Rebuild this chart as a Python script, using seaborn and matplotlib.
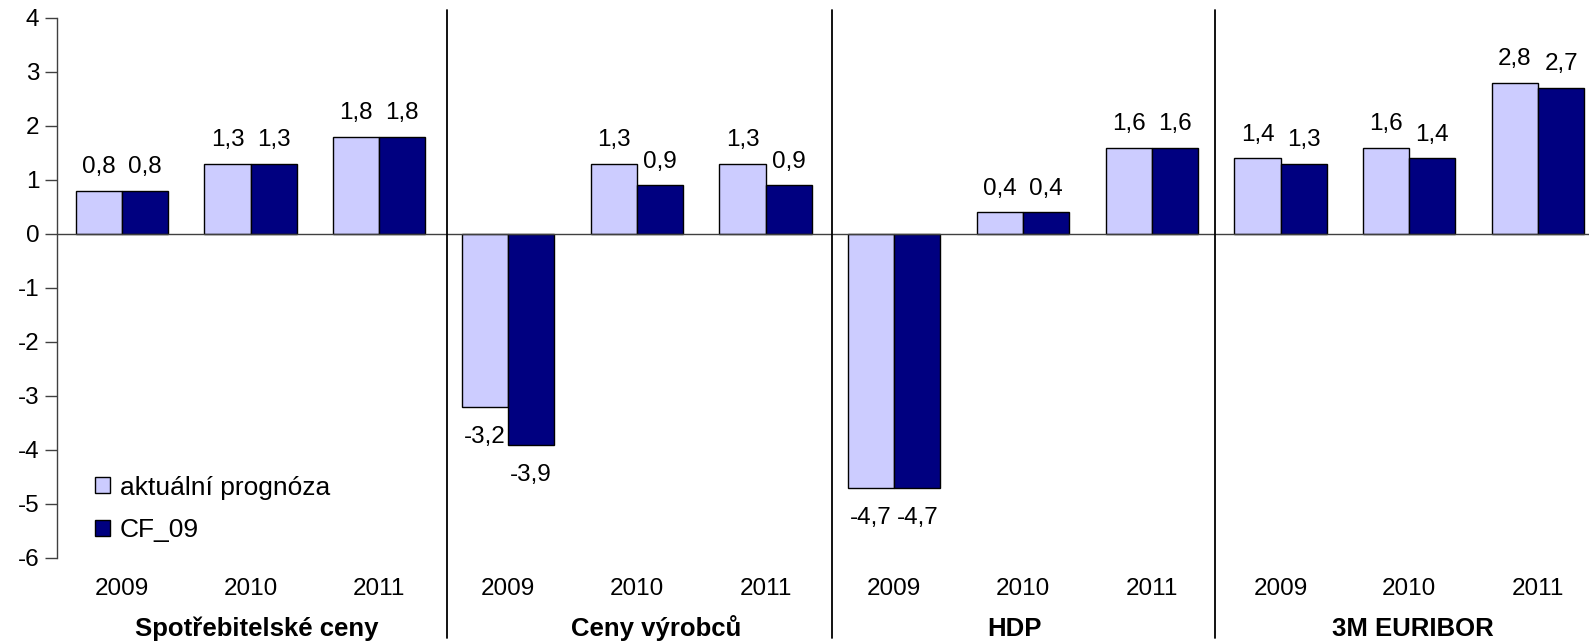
import numpy as np
import pandas as pd
import matplotlib
matplotlib.use("Agg")
import matplotlib.pyplot as plt
import matplotlib.transforms as mtransforms
from matplotlib.patches import Patch
import seaborn as sns

# ---- data ----
groups = ["Spotřebitelské ceny", "Ceny výrobců", "HDP", "3M EURIBOR"]
years = ["2009", "2010", "2011"]
series_names = ["aktuální prognóza", "CF_09"]
aktualni = [0.8, 1.3, 1.8, -3.2, 1.3, 1.3, -4.7, 0.4, 1.6, 1.4, 1.6, 2.8]
cf09 = [0.8, 1.3, 1.8, -3.9, 0.9, 0.9, -4.7, 0.4, 1.6, 1.3, 1.4, 2.7]
colors = ["#CCCCFF", "#000080"]
yticks = [-6, -5, -4, -3, -2, -1, 0, 1, 2, 3, 4]

cats = [f"{g} {y}" for g in groups for y in years]
df = pd.DataFrame({
    "cat": cats * 2,
    "value": aktualni + cf09,
    "series": [series_names[0]] * len(cats) + [series_names[1]] * len(cats),
})

sns.set_theme(style="white")
plt.rcParams["font.family"] = ["Liberation Sans", "DejaVu Sans"]
plt.rcParams["axes.unicode_minus"] = False
plt.rcParams["text.color"] = "black"

W, H = 1589, 641
fig = plt.figure(figsize=(W / 100, H / 100), dpi=100)
ax_left, ax_right_px = 57.4, 57.4 + 12 * 128.75
ax_top, ax_bot = 18, 558
ax = fig.add_axes([ax_left / W, (H - ax_bot) / H, (ax_right_px - ax_left) / W, (ax_bot - ax_top) / H])

sns.barplot(data=df, x="cat", y="value", hue="series", order=cats,
            hue_order=series_names, palette=colors, width=0.717,
            edgecolor="black", linewidth=1.0, ax=ax, legend=False,
            saturation=1)

ax.set_xlim(-0.5, 11.5)
ax.set_ylim(-6, 4)
ax.set_yticks(yticks)
ax.set_yticklabels([str(v) for v in yticks], fontsize=17.5, color="black")
ax.set_xticks(range(len(cats)))
ax.set_xticklabels(years * len(groups), fontsize=17.5, color="black")
ax.tick_params(axis="x", length=0, pad=14.5)
ax.tick_params(axis="y", length=9, width=1, color="#404040", pad=4, left=True, direction="out")
ax.set_xlabel("")
ax.set_ylabel("")
for s in ["top", "right", "bottom"]:
    ax.spines[s].set_visible(False)
ax.spines["left"].set_color("#404040")
ax.spines["left"].set_linewidth(1)
ax.set_facecolor("white")
fig.patch.set_facecolor("white")

ax.axhline(0, color="#404040", linewidth=1, zorder=1)

# separators between groups
for xs in [2.526, 5.516, 8.491]:
    ax.axvline(xs, ymin=-(638 - ax_bot) / (ax_bot - ax_top), ymax=1.0148,
               color="black", linewidth=1.3, clip_on=False)

# data labels
for cont in ax.containers:
    for bar in cont:
        v = bar.get_height()
        xc = bar.get_x() + bar.get_width() / 2
        txt = f"{v:.1f}".replace(".", ",")
        if v >= 0:
            ax.annotate(txt, (xc, v), xytext=(0, 12.8), textcoords="offset points",
                        ha="center", va="baseline", fontsize=17.5, color="black")
        else:
            ax.annotate(txt, (xc, v), xytext=(0, -26), textcoords="offset points",
                        ha="center", va="baseline", fontsize=17.5, color="black")

# group labels
trans = mtransforms.blended_transform_factory(ax.transData, ax.transAxes)
for gx, g in zip([1.05, 4.15, 6.93, 10.03], groups):
    ax.text(gx, -(636 - ax_bot) / (ax_bot - ax_top), g, transform=trans, ha="center",
            va="baseline", fontsize=18.5, fontweight="bold", color="black")

# legend
handles = [Patch(facecolor=c, edgecolor="black", linewidth=1) for c in colors]
leg = ax.legend(handles, series_names, loc="center left",
                bbox_to_anchor=((95 - ax_left) / (ax_right_px - ax_left), (ax_bot - 509) / (ax_bot - ax_top)),
                frameon=False, fontsize=19, handlelength=0.55, handleheight=0.55,
                handletextpad=0.4, labelspacing=0.72, borderpad=0, borderaxespad=0)
for t in leg.get_texts():
    t.set_color("black")

fig.savefig("out.png", dpi=100, facecolor="white")
